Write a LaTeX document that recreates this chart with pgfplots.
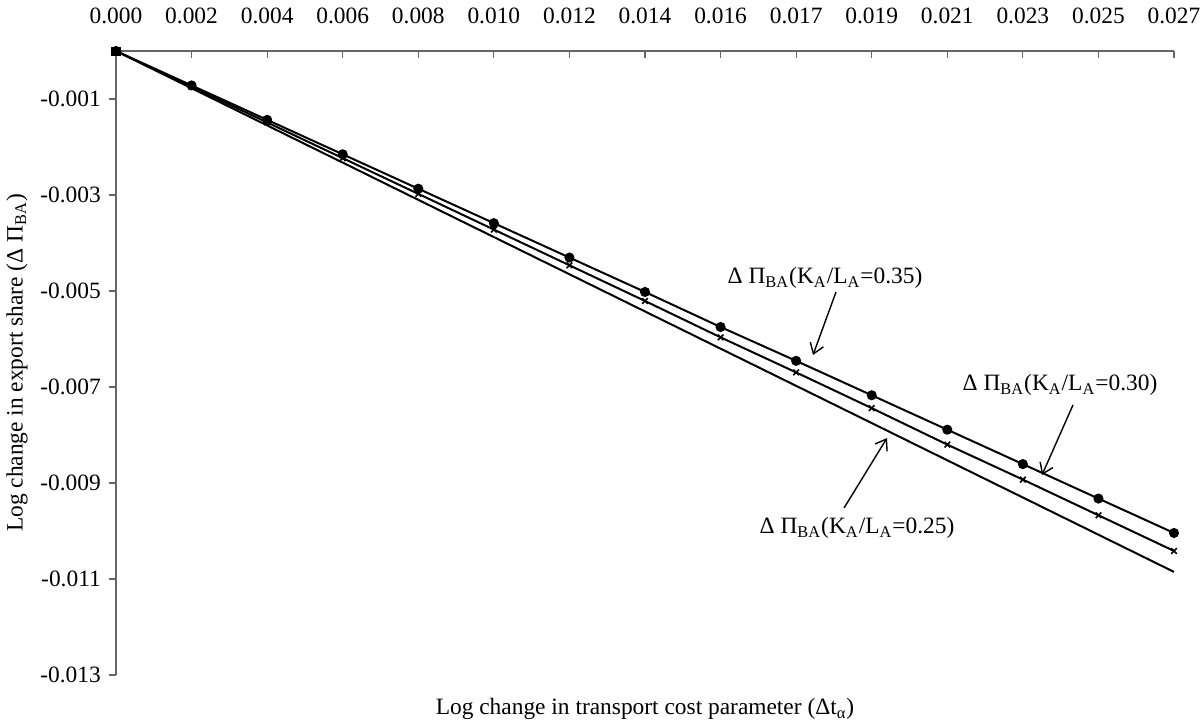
\documentclass[border=0pt]{standalone}
\usepackage{fontspec}
\setmainfont{Liberation Serif}
\usepackage{pgfplots}
\pgfplotsset{compat=1.18}
\usetikzlibrary{arrows.meta}
\begin{document}
\fontsize{11.7}{14}\selectfont
\begin{tikzpicture}
\useasboundingbox (-58pt,25.5pt) rectangle (543.5pt,-337pt);
\begin{axis}[
  at={(0,0)}, anchor=north west,
  width=529pt, height=312pt, scale only axis,
  xmin=0, xmax=0.02716, ymin=-0.013, ymax=0,
  clip=false,
  axis x line=top, axis y line=left,
  axis line style={-, draw=black!60, line width=0.6pt},
  every tick/.style={draw=black!60, line width=0.6pt},
  major tick length=3.5pt,
  xtick align=inside, ytick align=outside,
  scaled ticks=false,
  /pgf/number format/assume math mode=true,
  xtick={0,0.00194,0.00388,0.00582,0.00776,0.0097,0.01164,0.01358,0.01552,0.01746,0.0194,0.02134,0.02328,0.02522,0.02716},
  xticklabels={0.000,0.002,0.004,0.006,0.008,0.010,0.012,0.014,0.016,0.017,0.019,0.021,0.023,0.025,0.027},
  ytick={-0.013,-0.011,-0.009,-0.007,-0.005,-0.003,-0.001},
  yticklabels={-0.013,-0.011,-0.009,-0.007,-0.005,-0.003,-0.001},
  x tick label style={anchor=base, yshift=14pt, font=\fontsize{11.7}{14}\selectfont},
  y tick label style={anchor=east, font=\fontsize{11.7}{14}\selectfont},
  xlabel={Log change in transport cost parameter (Δt\textsubscript{α})},
  ylabel={Log change in export share (Δ Π\textsubscript{BA})},
  every axis x label/.style={at={(axis description cs:0.5,-0.0545)}, anchor=center, font=\fontsize{11.7}{14}\selectfont},
  every axis y label/.style={at={(axis description cs:-0.0936,0.5)}, rotate=90, anchor=center, font=\fontsize{11.7}{14}\selectfont},
]
% K_A/L_A = 0.35 (dots)
\addplot[black, line width=1pt, mark=*, mark size=2pt] coordinates {
(0,0) (0.00194,-0.000717) (0.00388,-0.001434) (0.00582,-0.002152) (0.00776,-0.002869)
(0.0097,-0.003586) (0.01164,-0.004303) (0.01358,-0.005020) (0.01552,-0.005750)
(0.01746,-0.006455) (0.0194,-0.007172) (0.02134,-0.007889) (0.02328,-0.008606)
(0.02522,-0.009324) (0.02716,-0.010041)};
% K_A/L_A = 0.30 (crosses)
\addplot[black, line width=1pt, mark=x, mark size=2pt, mark options={line width=0.8pt}] coordinates {
(0,0) (0.00194,-0.000744) (0.00388,-0.001488) (0.00582,-0.002232) (0.00776,-0.002976)
(0.0097,-0.003720) (0.01164,-0.004464) (0.01358,-0.005208) (0.01552,-0.005965)
(0.01746,-0.006696) (0.0194,-0.007440) (0.02134,-0.008200) (0.02328,-0.008928)
(0.02522,-0.009672) (0.02716,-0.010416)};
% K_A/L_A = 0.25 (line)
\addplot[black, line width=1pt, mark=square*, mark size=1.75pt, mark indices={1}] coordinates {
(0,0) (0.00194,-0.000775) (0.00388,-0.001550) (0.00582,-0.002325) (0.00776,-0.003101)
(0.0097,-0.003876) (0.01164,-0.004651) (0.01358,-0.005426) (0.01552,-0.006201)
(0.01746,-0.006976) (0.0194,-0.007751) (0.02134,-0.008527) (0.02328,-0.009302)
(0.02522,-0.010077) (0.02716,-0.010852)};
\node at (axis cs:0.018201,-0.004729) {Δ Π\textsubscript{BA}(K\textsubscript{A}/L\textsubscript{A}=0.35)};
\draw[-{Straight Barb[length=5pt,width=7pt]}, line width=0.7pt] (axis cs:0.018483,-0.005021) -- (axis cs:0.017893,-0.006333);
\node at (axis cs:0.024233,-0.006958) {Δ Π\textsubscript{BA}(K\textsubscript{A}/L\textsubscript{A}=0.30)};
\draw[-{Straight Barb[length=5pt,width=7pt]}, line width=0.7pt] (axis cs:0.024567,-0.007375) -- (axis cs:0.023771,-0.008833);
\node at (axis cs:0.019022,-0.009938) {Δ Π\textsubscript{BA}(K\textsubscript{A}/L\textsubscript{A}=0.25)};
\draw[-{Straight Barb[length=5pt,width=7pt]}, line width=0.7pt] (axis cs:0.018689,-0.009521) -- (axis cs:0.019792,-0.008063);
\end{axis}
\end{tikzpicture}
\end{document}
